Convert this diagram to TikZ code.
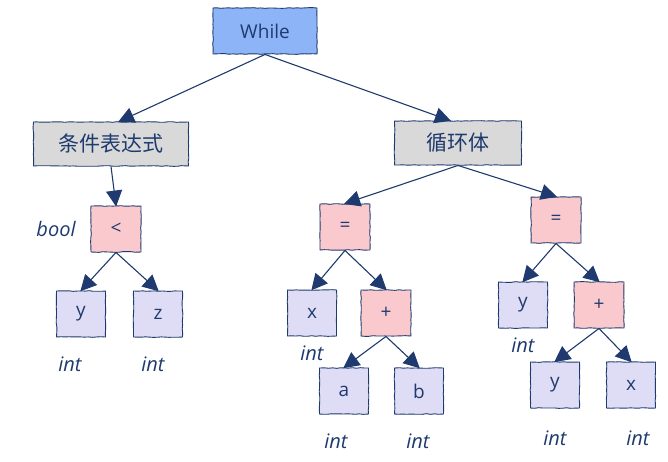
\documentclass[tikz,border=0pt]{standalone}
\usepackage{fontspec}
\setmainfont{Open Sans}
\newfontfamily\cjk{Noto Sans CJK SC}
\usetikzlibrary{arrows.meta,decorations.pathmorphing}
\definecolor{ink}{HTML}{1F3A6E}
\definecolor{topblue}{HTML}{8DB4F7}
\definecolor{greybox}{HTML}{D9D9D9}
\definecolor{pinkbox}{HTML}{F9C9CD}
\definecolor{lavbox}{HTML}{DFDDF5}
\tikzset{
  base/.style={draw=ink, line width=0.9pt, text=ink, inner sep=0pt, anchor=center,
    decorate, decoration={random steps, segment length=4pt, amplitude=0.35pt}},
  topbox/.style={base, fill=topblue, minimum width=104pt, minimum height=46pt, font=\fontsize{19}{22}\selectfont},
  catbox/.style={base, fill=greybox, minimum height=44pt, font=\cjk\fontsize{21}{24}\selectfont},
  opbox/.style={base, fill=pinkbox, minimum width=50pt, minimum height=46pt, font=\fontsize{19}{22}\selectfont},
  varbox/.style={base, fill=lavbox, minimum width=49pt, minimum height=46pt, font=\fontsize{19}{22}\selectfont},
  typelab/.style={text=ink, font=\itshape\fontsize{20}{23}\selectfont, inner sep=0pt},
  edge/.style={draw=ink, line width=1.1pt, -{Triangle[length=16pt,width=16pt]}, shorten >=-1pt}
}
\begin{document}
\begin{tikzpicture}[x=1pt, y=-1pt]
\useasboundingbox (0,0) rectangle (668,461);
\node[topbox] (while) at (265,31) {While};
\node[catbox, minimum width=155pt] (cond) at (111,144) {条件表达式};
\node[catbox, minimum width=127pt] (body) at (458,143) {循环体};
\node[opbox] (lt) at (116,229) {<};
\node[varbox] (y1) at (81,314) {y};
\node[varbox] (z1) at (158,314) {z};
\node[opbox] (eq1) at (345,227) {=};
\node[varbox] (x1) at (312,313) {x};
\node[opbox] (plus1) at (386,313) {+};
\node[varbox] (a1) at (344,391) {a};
\node[varbox] (b1) at (419,391) {b};
\node[opbox] (eq2) at (556,220) {=};
\node[varbox] (y2) at (523,305) {y};
\node[opbox] (plus2) at (599,305) {+};
\node[varbox] (y3) at (555,385) {y};
\node[varbox] (x3) at (631,385) {x};

\node[typelab] (tbool) at (56,229) {bool};
\node[typelab] (ti1) at (70,364) {int};
\node[typelab] (ti2) at (153,364) {int};
\node[typelab] (ti3) at (312,353) {int};
\node[typelab] (ti4) at (336,441) {int};
\node[typelab] (ti5) at (418,441) {int};
\node[typelab] (ti6) at (523,345) {int};
\node[typelab] (ti7) at (555,438) {int};
\node[typelab] (ti8) at (638,438) {int};

\draw[edge] (while.south) -- ([xshift=8pt]cond.north);
\draw[edge] (while.south) -- ([xshift=-8pt]body.north);
\draw[edge] (cond.south) -- (lt.north);
\draw[edge] (lt.south) -- (y1.north);
\draw[edge] (lt.south) -- (z1.north);
\draw[edge] (body.south) -- (eq1.north);
\draw[edge] (body.south) -- (eq2.north);
\draw[edge] (eq1.south) -- (x1.north);
\draw[edge] (eq1.south) -- (plus1.north);
\draw[edge] (plus1.south) -- (a1.north);
\draw[edge] (plus1.south) -- (b1.north);
\draw[edge] (eq2.south) -- (y2.north);
\draw[edge] (eq2.south) -- (plus2.north);
\draw[edge] (plus2.south) -- (y3.north);
\draw[edge] (plus2.south) -- (x3.north);
\end{tikzpicture}
\end{document}
